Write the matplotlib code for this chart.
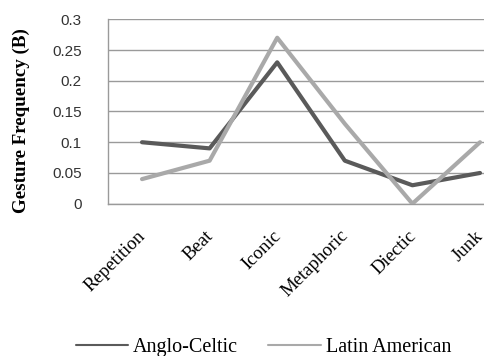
import matplotlib
matplotlib.use("Agg")
import matplotlib.pyplot as plt
import matplotlib.transforms as mtransforms

categories = ["Repetition", "Beat", "Iconic", "Metaphoric", "Diectic", "Junk"]
anglo_celtic = [0.10, 0.09, 0.23, 0.07, 0.03, 0.05]
latin_american = [0.04, 0.07, 0.27, 0.13, 0.00, 0.10]
yticks = [0, 0.05, 0.1, 0.15, 0.2, 0.25, 0.3]
ytick_labels = ["0", "0.05", "0.1", "0.15", "0.2", "0.25", "0.3"]

fig = plt.figure(figsize=(4.84, 3.56), dpi=100)
ax = fig.add_axes([0.2236, 0.4278, 0.838, 0.518])

x = list(range(len(categories)))
ax.plot(x, anglo_celtic, color="#5a5a5a", lw=3, label="Anglo-Celtic", solid_capstyle="round", solid_joinstyle="round", zorder=3)
ax.plot(x, latin_american, color="#a9a9a9", lw=3, label="Latin American", solid_capstyle="round", solid_joinstyle="round", zorder=3)

ax.set_xlim(-0.5, len(categories) - 0.5)
ax.set_ylim(0, 0.3)
ax.set_yticks(yticks)
ax.set_yticklabels(ytick_labels, fontfamily="Liberation Sans", fontsize=11, color="#333333")
ax.set_xticks(x)
ax.set_xticklabels(categories, rotation=45, ha="right", rotation_mode="anchor",
                   fontfamily="Liberation Serif", fontsize=13.5)
ax.tick_params(axis="both", length=0)
ax.tick_params(axis="x", pad=17)
ax.tick_params(axis="y", pad=19)
ax.grid(axis="y", color="#9a9a9a", lw=1)
ax.set_axisbelow(True)
for s in ["top", "right"]:
    ax.spines[s].set_visible(False)
for s in ["left", "bottom"]:
    ax.spines[s].set_color("#9a9a9a")
    ax.spines[s].set_linewidth(1)

offset = mtransforms.ScaledTranslation(-5 / 100, 0, fig.dpi_scale_trans)
for lbl in ax.get_xticklabels():
    lbl.set_transform(lbl.get_transform() + offset)

fig.text(0.045, 0.66, "Gesture Frequency (B)", rotation=90, ha="center", va="center",
         fontfamily="Liberation Serif", fontweight="bold", fontsize=13.7)

handles, labels = ax.get_legend_handles_labels()
leg = fig.legend(handles, labels, loc="center", bbox_to_anchor=(0.544, 0.025), ncol=2,
                 frameon=False, prop={"family": "Liberation Serif", "size": 14.5},
                 handlelength=2.6, handletextpad=0.25, columnspacing=1.5)
for h in leg.get_lines():
    h.set_linewidth(1.5)

fig.savefig("out.png", dpi=100)
